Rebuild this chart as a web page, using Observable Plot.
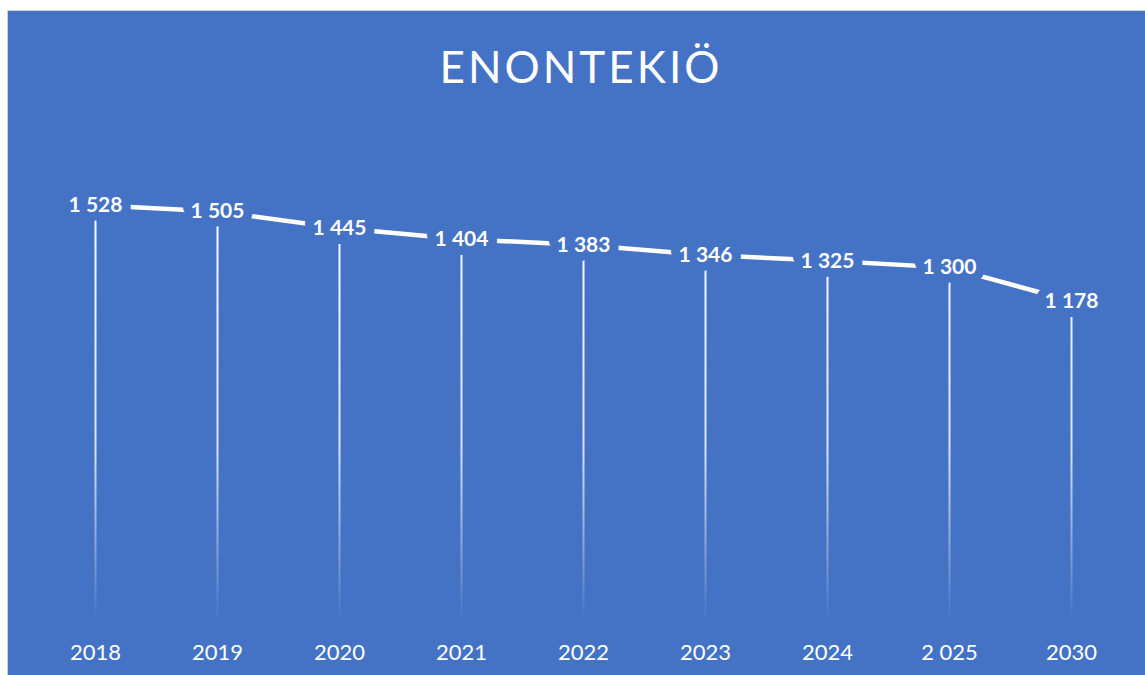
<!DOCTYPE html>
<html>
<head>
<meta charset="utf-8">
<script src="https://cdn.jsdelivr.net/npm/d3@7"></script>
<script src="https://cdn.jsdelivr.net/npm/@observablehq/plot@0.6"></script>
<style>
  html, body { margin: 0; padding: 0; background: #ffffff; overflow: hidden; }
  #panel {
    position: absolute; left: 7px; top: 10px; width: 1150px; height: 680px;
    background: #4472C4; border: 1px solid #d0d0d0;
  }
  #title {
    height: 99px; margin: 0; padding: 0;
    font-family: Lato, "Open Sans", sans-serif; font-weight: 400;
    font-size: 44px; letter-spacing: 3px; color: #ffffff;
    text-align: center; width: 1146px; line-height: 110px;
  }
  #chart svg { display: block; }
</style>
</head>
<body>
<div id="panel">
  <div id="title">ENONTEKIÖ</div>
  <div id="chart"></div>
</div>
<script>
const years = ["2018", "2019", "2020", "2021", "2022", "2023", "2024", "2 025", "2030"];
const population = [1528, 1505, 1445, 1404, 1383, 1346, 1325, 1300, 1178];

const data = years.map((year, i) => ({year, value: population[i]}));
const fmt = d3.formatLocale({decimal: ",", thousands: " ", grouping: [3], currency: ["", "€"]}).format(",d");
const blue = "#4472C4";

const chart = Plot.plot({
  width: 1137,
  height: 565,
  marginTop: 75,
  marginBottom: 52,
  marginLeft: 24,
  marginRight: 11,
  style: {background: blue, color: "#ffffff", fontFamily: "Lato, 'Open Sans', sans-serif", overflow: "visible"},
  x: {type: "band", domain: years, padding: 0, label: null},
  y: {domain: [0, 1600], axis: null},
  marks: [
    Plot.axisX({tickSize: 0, tickPadding: 21, fontSize: 22, label: null, fill: "#ffffff"}),
    Plot.ruleX(data, {x: "year", y1: 0, y2: "value", stroke: "url(#dropGrad)", strokeWidth: 2}),
    Plot.line(data, {x: "year", y: "value", stroke: "#ffffff", strokeWidth: 4.5, strokeLinecap: "butt"}),
    Plot.text(data, {
      x: "year", y: "value", text: d => fmt(d.value),
      fill: "#ffffff", stroke: blue, strokeWidth: 18, strokeLinejoin: "round",
      fontSize: 21, fontWeight: "bold"
    })
  ]
});

// gradient for drop lines (white fading to transparent toward the baseline)
const yScale = chart.scale("y");
const svgNS = "http://www.w3.org/2000/svg";
const defs = document.createElementNS(svgNS, "defs");
const grad = document.createElementNS(svgNS, "linearGradient");
grad.setAttribute("id", "dropGrad");
grad.setAttribute("gradientUnits", "userSpaceOnUse");
grad.setAttribute("x1", 0); grad.setAttribute("x2", 0);
grad.setAttribute("y1", yScale.apply(1600));
grad.setAttribute("y2", yScale.apply(0));
[[0, 1], [0.6, 0.8], [1, 0]].forEach(([o, op]) => {
  const s = document.createElementNS(svgNS, "stop");
  s.setAttribute("offset", o);
  s.setAttribute("stop-color", "#ffffff");
  s.setAttribute("stop-opacity", op);
  grad.appendChild(s);
});
defs.appendChild(grad);
chart.insertBefore(defs, chart.firstChild);

document.getElementById("chart").appendChild(chart);
</script>
</body>
</html>
